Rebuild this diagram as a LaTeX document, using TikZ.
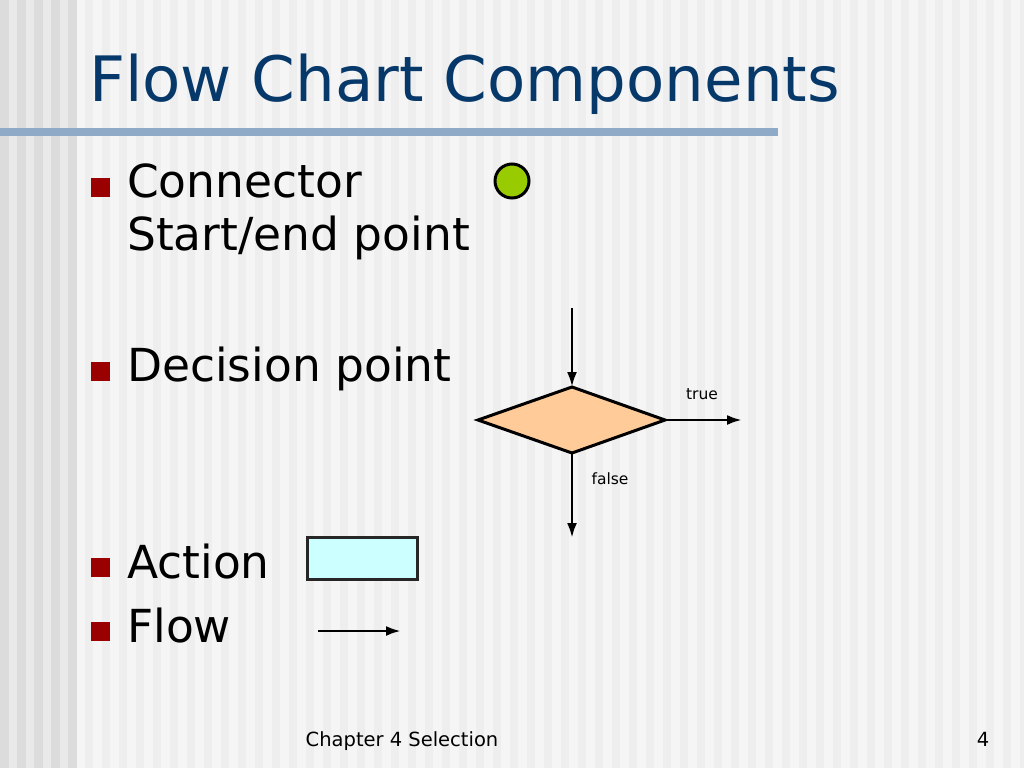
\documentclass[tikz,border=0pt]{standalone}
\usepackage{fontspec}
\setmainfont{DejaVu Sans}
\usetikzlibrary{arrows.meta}
\definecolor{titleblue}{HTML}{06386A}
\definecolor{barblue}{HTML}{8FAAC6}
\definecolor{bulletred}{HTML}{9B0000}
\definecolor{conngreen}{HTML}{99CC00}
\definecolor{decorange}{HTML}{FFCC99}
\definecolor{actcyan}{HTML}{CCFFFF}
\definecolor{stripeA}{HTML}{F5F5F5}
\definecolor{stripeB}{HTML}{EEEEEE}
\definecolor{stripeC}{HTML}{E9E9E9}
\definecolor{stripeD}{HTML}{DCDCDC}
\tikzset{
  bullettext/.style={anchor=base west, inner sep=0pt, font=\fontsize{45.5}{54}\selectfont},
  bulletsq/.style={fill=bulletred, draw=none, minimum size=19pt, inner sep=0pt},
  flowline/.style={line width=2.8pt, -{Latex[length=15pt,width=10pt]}},
  shapeline/.style={line width=3pt, draw=black},
  small/.style={inner sep=0pt, font=\fontsize{15.5}{18}\selectfont},
}
\begin{document}
\begin{tikzpicture}[x=1pt,y=-1pt]
\useasboundingbox (0,0) rectangle (1024,768);
% background stripes
\fill[stripeA] (0,0) rectangle (1024,768);
\foreach \i in {0,...,56} {
  \fill[stripeB] ({76+17*\i+8.5},0) rectangle ({76+17*\i+17},768);
}
\fill[stripeC] (0,0) rectangle (76,768);
\foreach \i in {0,...,4} {
  \fill[stripeD] ({17*\i},0) rectangle ({17*\i+8.5},768);
}
% title
\node[anchor=base west, inner sep=0pt, text=titleblue, font=\fontsize{62.6}{70}\selectfont] (title) at (89,101) {Flow Chart Components};
\fill[barblue] (0,128) rectangle (778,136);
% bullets
\node[bulletsq] (b1) at (100,187) {};
\node[bullettext] (t1) at (127,197) {Connector};
\node[bullettext] (t1b) at (127,250) {Start/end point};
\node[bulletsq] (b2) at (100,371) {};
\node[bullettext] (t2) at (127,381) {Decision point};
\node[bulletsq] (b3) at (100,567) {};
\node[bullettext] (t3) at (127,578) {Action};
\node[bulletsq] (b4) at (100,631) {};
\node[bullettext] (t4) at (127,642) {Flow};
% connector circle
\node[circle, shapeline, fill=conngreen, minimum size=34pt, inner sep=0pt] (conn) at (512,181) {};
% decision diamond
\coordinate (dL) at (478,420);
\coordinate (dR) at (665,420);
\coordinate (dT) at (572,387);
\coordinate (dB) at (572,453);
\filldraw[shapeline, fill=decorange, line join=miter] (dL) -- (dT) -- (dR) -- (dB) -- cycle;
\coordinate (inTop) at (572,308);
\coordinate (outRight) at (742,420);
\coordinate (outBottom) at (572,538);
\draw[flowline] (inTop) -- (dT);
\draw[flowline] (dR) -- (outRight);
\draw[flowline] (dB) -- (outBottom);
\node[small, anchor=base] (ltrue) at (702,399) {true};
\node[small, anchor=base] (lfalse) at (610,484) {false};
% action box
\node[draw=black!85, line width=3pt, fill=actcyan, minimum width=110pt, minimum height=42pt, inner sep=0pt] (act) at (362.5,558.5) {};
% flow arrow
\coordinate (fA) at (318,631);
\coordinate (fB) at (401,631);
\draw[flowline] (fA) -- (fB);
% footer
\node[anchor=base, inner sep=0pt, font=\fontsize{19.5}{22}\selectfont] (footer) at (402,746) {Chapter 4 Selection};
\node[anchor=base, inner sep=0pt, font=\fontsize{19.5}{22}\selectfont] (page) at (983,746) {4};
\end{tikzpicture}
\end{document}
